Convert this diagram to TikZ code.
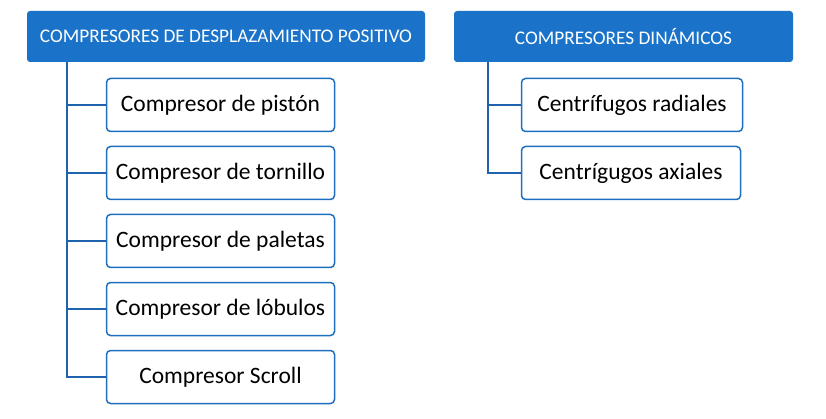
\documentclass[tikz,border=0pt]{standalone}
\usepackage{fontspec}
\setmainfont{Carlito}
\definecolor{hdr}{HTML}{1A73C8}
\definecolor{lnk}{HTML}{1F63AE}
\definecolor{bord}{HTML}{1F6FC0}
\begin{document}
\begin{tikzpicture}[x=1pt,y=-1pt,
  header/.style={draw=none,fill=hdr,rounded corners=3pt,text=white,font=\fontsize{19.3}{22}\selectfont,inner sep=0pt},
  item/.style={draw=bord,line width=1.5pt,fill=white,rounded corners=4pt,font=\fontsize{23.5}{27}\selectfont,inner sep=0pt},
  conn/.style={draw=lnk,line width=1.6pt}]
\useasboundingbox (0,0) rectangle (826,419);
% headers
\node[header,minimum width=398pt,minimum height=51pt] (h1) at (226,36.5) {COMPRESORES DE DESPLAZAMIENTO POSITIVO};
\node[header,minimum width=339pt,minimum height=51pt] (h2) at (623.5,36.5) {COMPRESORES DINÁMICOS};
% left items
\node[item,minimum width=228pt,minimum height=53pt] (a1) at (220.5,105) {Compresor de pistón};
\node[item,minimum width=228pt,minimum height=53pt] (a2) at (220.5,173) {Compresor de tornillo};
\node[item,minimum width=228pt,minimum height=53pt] (a3) at (220.5,241) {Compresor de paletas};
\node[item,minimum width=228pt,minimum height=53pt] (a4) at (220.5,309) {Compresor de lóbulos};
\node[item,minimum width=228pt,minimum height=53pt] (a5) at (220.5,377) {Compresor Scroll};
% right items
\node[item,minimum width=221pt,minimum height=53pt] (b1) at (632,105) {Centrífugos radiales};
\node[item,minimum width=219pt,minimum height=53pt] (b2) at (631,173) {Centrígugos axiales};
% connectors
\coordinate (s1) at (h1.south -| 67,0);
\coordinate (s2) at (h2.south -| 488,0);
\draw[conn] (s1) |- (a5.west);
\draw[conn] (a1.west) -- (a1.west -| s1);
\draw[conn] (a2.west) -- (a2.west -| s1);
\draw[conn] (a3.west) -- (a3.west -| s1);
\draw[conn] (a4.west) -- (a4.west -| s1);
\draw[conn] (s2) |- (b2.west);
\draw[conn] (b1.west) -- (b1.west -| s2);
\end{tikzpicture}
\end{document}
